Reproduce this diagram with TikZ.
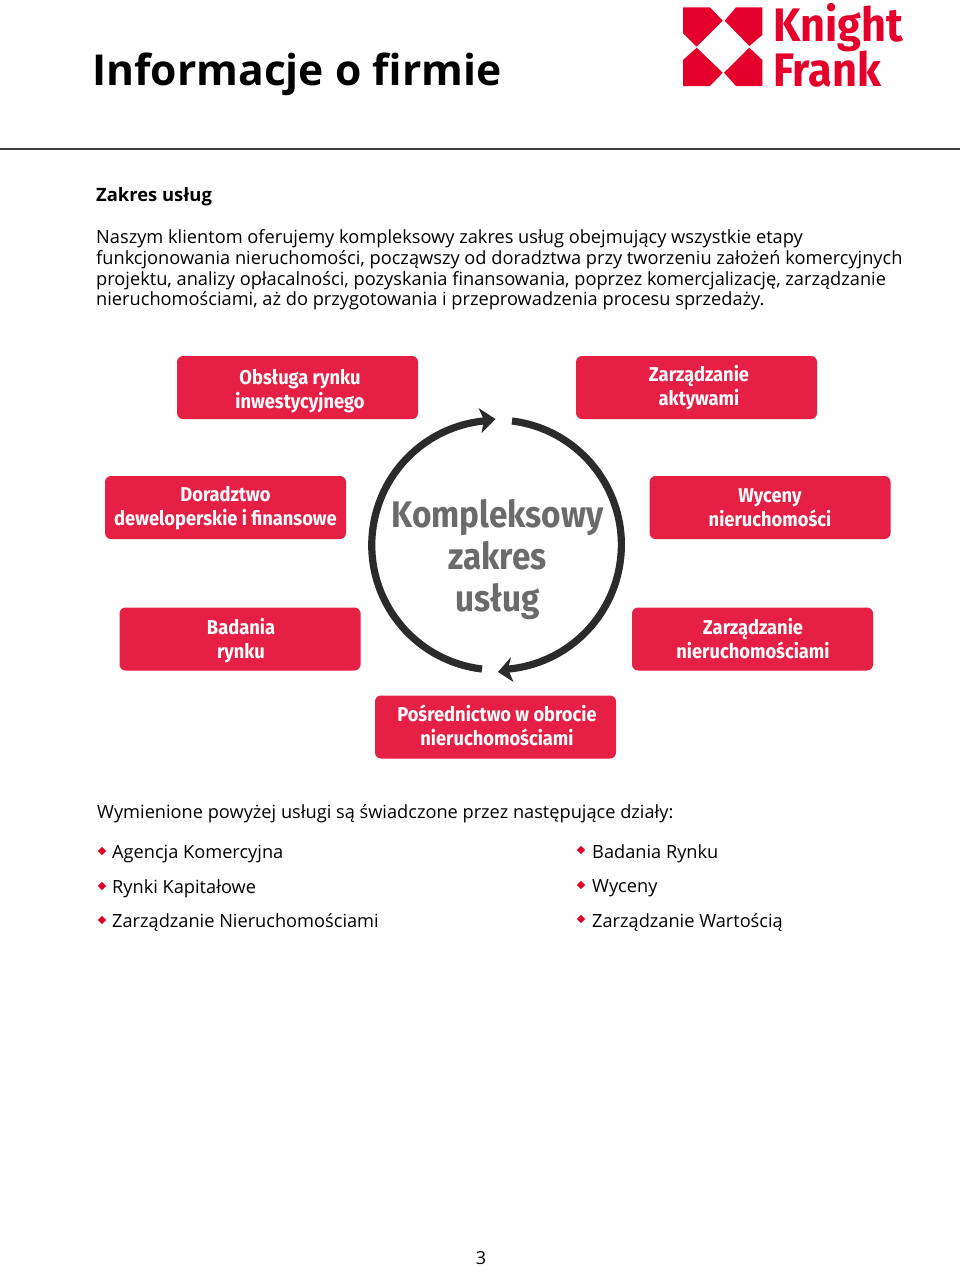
\documentclass[tikz,border=0pt]{standalone}
\usepackage{fontspec}
\setmainfont{Open Sans}
\newfontfamily\boxfont{Fira Sans}
\definecolor{kfred}{HTML}{E4002B}
\definecolor{boxred}{HTML}{E62045}
\definecolor{ringc}{HTML}{2B2B2B}
\definecolor{centc}{HTML}{6B6B6B}
\usetikzlibrary{shapes.geometric}
\tikzset{
  bodytext/.style={anchor=base west,inner sep=0pt,font=\fontsize{18.22}{20}\selectfont,text=black},
  listtext/.style={anchor=base west,inner sep=0pt,font=\fontsize{18.2}{20}\selectfont,text=black},
  bullet/.style={diamond,aspect=1,fill=kfred,inner sep=0pt,minimum size=8.5pt},
  svcbox/.style={fill=boxred,rounded corners=6pt,inner sep=0pt,minimum width=241pt,minimum height=63pt},
  svclabel/.style={align=center,inner sep=0pt,text=white,xscale=0.915,font=\boxfont\bfseries\fontsize{20}{24}\selectfont},
  logotext/.style={anchor=base west,inner sep=0pt,text=kfred,xscale=0.92,font=\boxfont\bfseries\fontsize{47}{47}\selectfont},
  ring/.style={draw=ringc,line width=7.2pt},
  ringhead/.style={fill=ringc},
}
\begin{document}
\begin{tikzpicture}[x=1pt,y=-1pt]
\useasboundingbox (0,0) rectangle (960,1266);
\fill[white] (0,0) rectangle (960,1266);
% header
\node[anchor=base west,inner sep=0pt,font=\bfseries\fontsize{42.6}{48}\selectfont] (title) at (92,85) {Informacje o firmie};
\coordinate (ruleL) at (0,149);
\coordinate (ruleR) at (960,149);
\draw[line width=2.4pt,color=ringc!90] (ruleL) -- (ruleR);
% logo
\fill[kfred] (683,7.3) -- (710,7.3) -- (722.7,20.7) -- (696.7,46.7) -- (683,33.3) -- cycle;
\fill[kfred] (724.7,20.7) -- (736,7.3) -- (762.3,7.3) -- (762.3,35) -- (749.3,46) -- cycle;
\fill[kfred] (696.7,47.7) -- (722.7,72.7) -- (710,86) -- (683,86) -- (683,60) -- cycle;
\fill[kfred] (749.3,47.7) -- (762.3,60) -- (762.3,86) -- (736,86) -- (724,72.7) -- cycle;
\node[logotext] (logo1) at (773,41) {Knight};
\node[logotext] (logo2) at (773,86) {Frank};
% text
\node[anchor=base west,inner sep=0pt,font=\bfseries\fontsize{18.4}{20}\selectfont] (head) at (96,201) {Zakres usług};
\node[bodytext] (p1) at (96,243) {Naszym klientom oferujemy kompleksowy zakres usług obejmujący wszystkie etapy};
\node[bodytext] (p2) at (96,264) {funkcjonowania nieruchomości, począwszy od doradztwa przy tworzeniu założeń komercyjnych};
\node[bodytext] (p3) at (96,285) {projektu, analizy opłacalności, pozyskania finansowania, poprzez komercjalizację, zarządzanie};
\node[bodytext] (p4) at (96,305) {nieruchomościami, aż do przygotowania i przeprowadzenia procesu sprzedaży.};
% boxes
\node[svcbox] (b1) at (297.5,387.5) {};
\node[svclabel] (l1) at (300,391) {Obsługa rynku\\inwestycyjnego};
\node[svcbox] (b2) at (696.5,387.5) {};
\node[svclabel] (l2) at (699,388) {Zarządzanie\\aktywami};
\node[svcbox] (b3) at (225.5,507.5) {};
\node[svclabel] (l3) at (225.5,508) {Doradztwo\\deweloperskie i finansowe};
\node[svcbox] (b4) at (770,507.5) {};
\node[svclabel] (l4) at (770,508) {Wyceny\\nieruchomości};
\node[svcbox] (b5) at (240,639) {};
\node[svclabel] (l5) at (241,641) {Badania\\rynku};
\node[svcbox] (b6) at (752.5,639) {};
\node[svclabel] (l6) at (753,638.5) {Zarządzanie\\nieruchomościami};
\node[svcbox] (b7) at (495.5,727) {};
\node[svclabel] (l7) at (497,725.5) {Pośrednictwo w obrocie\\nieruchomościami};
% ring
\draw[ring] (482,669) arc[start angle=96.7,end angle=264.7,radius=124.8];
\draw[ring] (512,421) arc[start angle=-82.9,end angle=84.7,radius=124.8];
\fill[ringhead] (495.5,419) -- (478.5,408) -- (484,420) -- (481.5,433) -- cycle;
\fill[ringhead] (498,672) -- (511,657) -- (508,669) -- (513.5,682) -- cycle;
\node[align=center,inner sep=0pt,text=centc,xscale=0.9,font=\boxfont\bfseries\fontsize{37}{42}\selectfont] (centre) at (497.5,560) {Kompleksowy\\zakres\\usług};
% list
\node[listtext] (intro) at (97,818) {Wymienione powyżej usługi są świadczone przez następujące działy:};
\node[bullet] (d1) at (102,851) {};
\node[listtext] (t1) at (112,858) {Agencja Komercyjna};
\node[bullet] (d2) at (102,886) {};
\node[listtext] (t2) at (112,893) {Rynki Kapitałowe};
\node[bullet] (d3) at (102,920) {};
\node[listtext] (t3) at (112,927) {Zarządzanie Nieruchomościami};
\node[bullet] (d4) at (581,850) {};
\node[listtext] (t4) at (592,858) {Badania Rynku};
\node[bullet] (d5) at (581,885) {};
\node[listtext] (t5) at (592,892) {Wyceny};
\node[bullet] (d6) at (581,919) {};
\node[listtext] (t6) at (592,927) {Zarządzanie Wartością};
\node[anchor=base,inner sep=0pt,font=\fontsize{18}{20}\selectfont] (pg) at (481,1264) {3};
\end{tikzpicture}
\end{document}
